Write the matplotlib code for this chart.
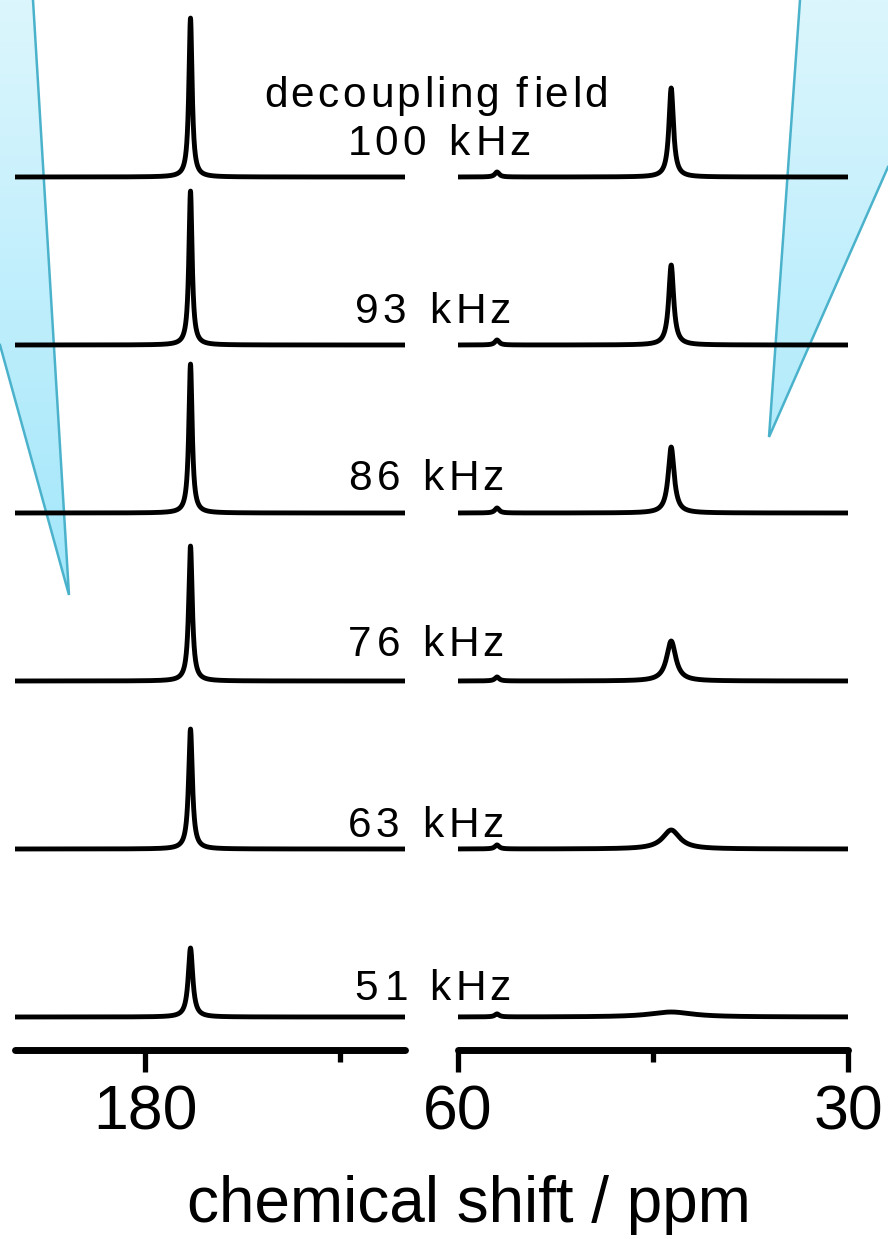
import numpy as np
import matplotlib
matplotlib.use("Agg")
import matplotlib.pyplot as plt
from matplotlib.patches import Polygon
from matplotlib.colors import LinearSegmentedColormap
from matplotlib.font_manager import FontProperties, findfont, get_font

plt.rcParams['font.family'] = ['Liberation Sans', 'DejaVu Sans']

# decoupling field strength of each trace, top to bottom
fields = [100, 93, 86, 76, 63, 51]

# carbonyl peak (left panel)
co_shift = 176.5
co_height = [159, 154, 149, 135, 120, 69]
co_fwhm = [0.30, 0.30, 0.31, 0.33, 0.35, 0.42]

# aliphatic peak (right panel)
ca_shift = 43.6
ca_height = [89, 80, 66, 40, 19, 5]
ca_fwhm = [0.42, 0.46, 0.55, 0.85, 1.6, 4.0]

# small impurity peak (right panel)
small_shift = 57.0
small_height = [5, 5, 5, 4, 4, 3]
small_fwhm = 0.4

left_range = (190, 160)
right_range = (60, 30)
left_major = [180]
left_minor = [165]
right_major = [60, 30]
right_minor = [45]

W, H = 888, 1239
fig = plt.figure(figsize=(W / 100, H / 100), dpi=100)

# background layer in pixel units for the blue wedges and the text
bg = fig.add_axes([0, 0, 1, 1], zorder=0)
cmap = LinearSegmentedColormap.from_list('wedge', ['#dcf6fd', '#a0e6fb'])
grad = np.linspace(0, 1, 256).reshape(-1, 1)
wedges = [
    ([(0, 0), (33, 0), (69, 595), (0, 345)], [(33, 0), (69, 595), (0, 345)]),
    ([(800, 0), (888, 0), (888, 167), (769, 437)], [(800, 0), (769, 437), (888, 167)]),
]
for fill_pts, edge_pts in wedges:
    patch = Polygon(fill_pts, closed=True, facecolor='none', edgecolor='none')
    bg.add_patch(patch)
    im = bg.imshow(grad, cmap=cmap, extent=(0, W, 620, 0), aspect='auto', zorder=1)
    im.set_clip_path(patch)
    ex, ey = zip(*edge_pts)
    bg.plot(ex, ey, color='#4bb2cb', lw=1.8, zorder=2, solid_joinstyle='miter')
bg.set_xlim(0, W)
bg.set_ylim(H, 0)
bg.axis('off')


def lorentz(x, x0, h, fwhm):
    return h / (1 + ((x - x0) / (fwhm / 2)) ** 2)


def spaced_text(ax, x, y, s, size, track):
    fp = FontProperties(family='Liberation Sans', size=size)
    font = get_font(findfont(fp))
    font.set_size(size, fig.dpi)
    for ch in s:
        g = font.load_char(ord(ch))
        if ch != ' ':
            ax.text(x + g.horiBearingX / 64, y, ch, fontproperties=fp,
                    ha='left', va='baseline', zorder=5)
        x += g.linearHoriAdvance / 65536 + track


ax_l = fig.add_axes([15 / W, (H - 1050) / H, 390 / W, 1050 / H], zorder=1)
ax_r = fig.add_axes([458 / W, (H - 1050) / H, 390 / W, 1050 / H], zorder=1)

xl = np.linspace(left_range[0], left_range[1], 4000)
xr = np.linspace(right_range[0], right_range[1], 4000)
step, base = 168, 33
n = len(fields)
for i in range(n):
    off = base + (n - 1 - i) * step
    yl = off + lorentz(xl, co_shift, co_height[i], co_fwhm[i])
    yr = (off + lorentz(xr, ca_shift, ca_height[i], ca_fwhm[i])
          + lorentz(xr, small_shift, small_height[i], small_fwhm))
    ax_l.plot(xl, yl, color='black', lw=3.5, solid_capstyle='butt')
    ax_r.plot(xr, yr, color='black', lw=3.5, solid_capstyle='butt')

for ax, rng, major, minor in [(ax_l, left_range, left_major, left_minor),
                              (ax_r, right_range, right_major, right_minor)]:
    ax.set_xlim(*rng)
    ax.set_ylim(0, 1050)
    ax.patch.set_alpha(0)
    for s in ['top', 'left', 'right']:
        ax.spines[s].set_visible(False)
    ax.spines['bottom'].set_linewidth(5)
    ax.spines['bottom'].set_capstyle('round')
    ax.set_yticks([])
    ax.set_xticks(major)
    ax.set_xticks(minor, minor=True)
    ax.set_xticklabels([str(v) for v in major])
    ax.tick_params(axis='x', which='major', length=16, width=3.8,
                   direction='out', labelsize=45, pad=8)
    ax.tick_params(axis='x', which='minor', length=8.5, width=3.8,
                   direction='out')

# labels
spaced_text(bg, 262, 107, 'decoupling field', 30.5, 3.3)
label_x = [344, 353, 346, 346, 346, 353]
label_y = [155, 323, 490, 656, 837, 1000]
for f, lx, ly in zip(fields, label_x, label_y):
    spaced_text(bg, lx, ly, f'{f} kHz', 30.5, 4.8)

bg.text(469, 1222, 'chemical shift / ppm', fontsize=46, ha='center', va='baseline')

fig.savefig('out.png', dpi=100)
